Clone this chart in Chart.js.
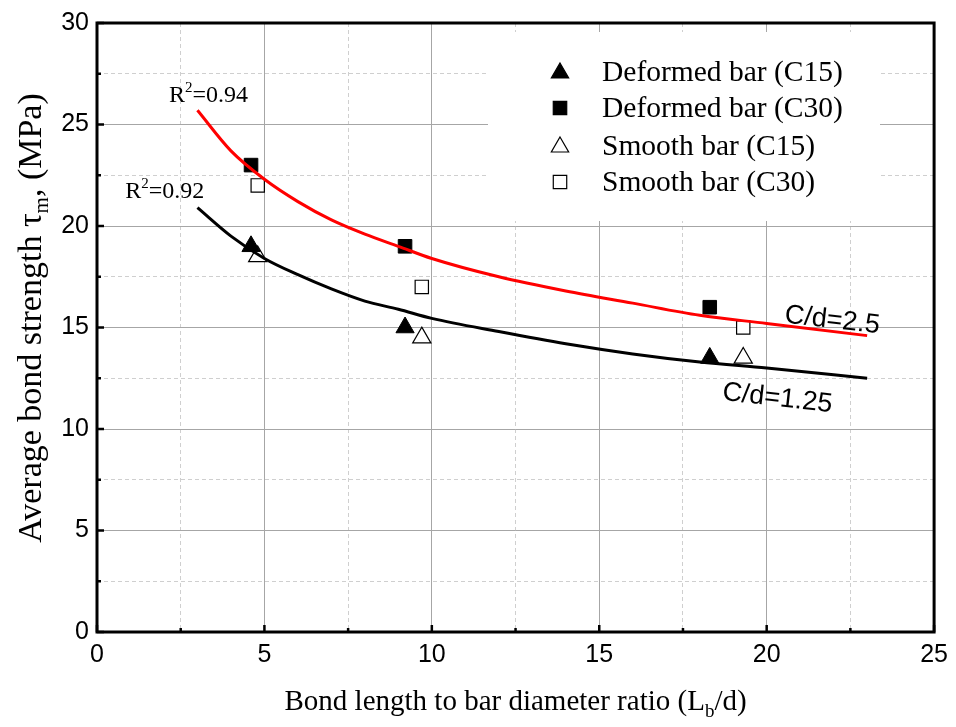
<!DOCTYPE html>
<html><head><meta charset="utf-8">
<script src="https://cdn.jsdelivr.net/npm/chart.js@4"></script>
<style>html,body{margin:0;padding:0;background:#fff}#wrap{width:956px;height:727px}</style>
</head><body><div id="wrap"><canvas id="c" width="956" height="727"></canvas></div>
<script>
// ---- data ----
const xTickValues = [0, 5, 10, 15, 20, 25];
const yTickValues = [0, 5, 10, 15, 20, 25, 30];
const seriesNames = ['Deformed bar (C15)', 'Deformed bar (C30)', 'Smooth bar (C15)', 'Smooth bar (C30)'];
const deformedX = [4.6, 9.2, 18.3];
const deformedC15 = [19.0, 15.0, 13.5];
const deformedC30 = [23.0, 19.0, 16.0];
const smoothX = [4.8, 9.7, 19.3];
const smoothC15 = [18.5, 14.5, 13.5];
const smoothC30 = [22.0, 17.0, 15.0];
const fitX = [3, 4, 5, 6, 7, 8, 9, 10, 12, 14, 16, 18, 20, 23];
const fitCd25 = [25.7, 23.7, 22.3, 21.2, 20.3, 19.6, 19.0, 18.4, 17.5, 16.8, 16.2, 15.6, 15.2, 14.6];
const fitCd125 = [20.9, 19.5, 18.4, 17.6, 16.9, 16.3, 15.9, 15.45, 14.8, 14.2, 13.7, 13.3, 13.0, 12.5];
const fitLabels = ['C/d=2.5', 'C/d=1.25'];
const r2Values = ['0.94', '0.92'];
const xTitle = ['Bond length to bar diameter ratio (L', 'b', '/d)'];
const yTitle = ['Average bond strength \u03C4', 'm', ', (MPa)'];

const pts = (xs, ys) => xs.map((x, i) => ({x: x, y: ys[i]}));
const SERIF = '"Liberation Serif", "Times New Roman", serif';
const SANS = '"Liberation Sans", Arial, sans-serif';

function rich(ctx, parts, x, y, align) {
  let total = 0;
  parts.forEach(p => { ctx.font = p[1] + 'px ' + SERIF; total += ctx.measureText(p[0]).width; });
  let cx = align === 'center' ? x - total / 2 : x;
  ctx.textAlign = 'left';
  ctx.textBaseline = 'alphabetic';
  parts.forEach(p => {
    ctx.font = p[1] + 'px ' + SERIF;
    ctx.fillText(p[0], cx, y + p[2]);
    cx += ctx.measureText(p[0]).width;
  });
}

function marker(ctx, style, filled, x, y, r) {
  ctx.beginPath();
  if (style === 'triangle') {
    let rad = 0;
    ctx.moveTo(x + Math.sin(rad) * r, y - Math.cos(rad) * r);
    rad += 2 * Math.PI / 3;
    ctx.lineTo(x + Math.sin(rad) * r, y - Math.cos(rad) * r);
    rad += 2 * Math.PI / 3;
    ctx.lineTo(x + Math.sin(rad) * r, y - Math.cos(rad) * r);
    ctx.closePath();
  } else {
    const s = Math.SQRT1_2 * r;
    ctx.rect(x - s, y - s, 2 * s, 2 * s);
  }
  ctx.fillStyle = filled ? '#000' : '#fff';
  ctx.fill();
  ctx.lineWidth = 1.2;
  ctx.strokeStyle = '#000';
  ctx.stroke();
}

const decor = {
  id: 'decor',
  beforeDatasetsDraw(chart) {
    const {ctx, chartArea: a, scales: {x, y}} = chart;
    ctx.save();
    ctx.fillStyle = '#fff';
    ctx.fillRect(a.left + 391, 32, 392, 189);
    ctx.strokeStyle = '#000';
    ctx.lineWidth = 3;
    ctx.strokeRect(a.left, a.top, a.right - a.left, a.bottom - a.top);
    ctx.lineWidth = 2.5;
    ctx.beginPath();
    for (let v = 0; v <= 25.001; v += 2.5) {
      const px = x.getPixelForValue(v);
      const len = (Math.abs(v % 5) < 1e-6) ? 7 : 4;
      ctx.moveTo(px, a.bottom); ctx.lineTo(px, a.bottom - len);
    }
    for (let v = 0; v <= 30.001; v += 2.5) {
      const py = y.getPixelForValue(v);
      const len = (Math.abs(v % 5) < 1e-6) ? 7 : 4;
      ctx.moveTo(a.left, py); ctx.lineTo(a.left + len, py);
    }
    ctx.stroke();
    ctx.fillStyle = '#000';
    rich(ctx, [[xTitle[0], 29, 0], [xTitle[1], 19, 7], [xTitle[2], 29, 0]], (a.left + a.right) / 2, 710, 'center');
    ctx.save();
    ctx.translate(41, 318);
    ctx.rotate(-Math.PI / 2);
    rich(ctx, [[yTitle[0], 34, 0], [yTitle[1], 21, 7], [yTitle[2], 34, 0]], 0, 0, 'center');
    ctx.restore();
    rich(ctx, [['R', 24, 0], ['2', 15, -10], ['=' + r2Values[0], 24, 0]], x.getPixelForValue(2.15), y.getPixelForValue(26.1), 'left');
    rich(ctx, [['R', 24, 0], ['2', 15, -10], ['=' + r2Values[1], 24, 0]], x.getPixelForValue(0.84), y.getPixelForValue(21.36), 'left');
    ctx.font = '27px ' + SANS;
    ctx.textAlign = 'center';
    ctx.textBaseline = 'middle';
    [[fitLabels[0], 21.96, 15.35], [fitLabels[1], 20.32, 11.5]].forEach(t => {
      ctx.save();
      ctx.translate(x.getPixelForValue(t[1]), y.getPixelForValue(t[2]));
      ctx.rotate(6.5 * Math.PI / 180);
      ctx.fillText(t[0], 0, 0);
      ctx.restore();
    });
    ctx.restore();
  },
  afterDatasetsDraw(chart) {
    const {ctx, chartArea: a} = chart;
    ctx.save();
    const entries = chart.data.datasets.filter(d => d.legendEntry);
    const rowY = [72, 108, 146, 182];
    entries.forEach((d, i) => {
      const cy = rowY[i];
      marker(ctx, d.pointStyle, d.backgroundColor === '#000', a.left + 463, d.pointStyle === 'triangle' ? cy + 1 : cy, d.pointStyle === 'triangle' ? 10 : 9.5);
      ctx.fillStyle = '#000';
      ctx.font = '29.5px ' + SERIF;
      ctx.textAlign = 'left';
      ctx.textBaseline = 'alphabetic';
      ctx.fillText(d.label, a.left + 505, cy + 9);
    });
    ctx.restore();
  }
};

const majorOf = v => Math.abs(v % 5) < 1e-6;

new Chart(document.getElementById('c').getContext('2d'), {
  type: 'scatter',
  data: {
    datasets: [
      {type: 'line', label: fitLabels[0], data: pts(fitX, fitCd25), borderColor: '#ff0000', borderWidth: 3,
       pointRadius: 0, fill: false, cubicInterpolationMode: 'monotone'},
      {type: 'line', label: fitLabels[1], data: pts(fitX, fitCd125), borderColor: '#000000', borderWidth: 3,
       pointRadius: 0, fill: false, cubicInterpolationMode: 'monotone'},
      {label: seriesNames[0], data: pts(deformedX, deformedC15), pointStyle: 'triangle', pointRadius: 10.5,
       backgroundColor: '#000', borderColor: '#000', borderWidth: 1, legendEntry: true},
      {label: seriesNames[1], data: pts(deformedX, deformedC30), pointStyle: 'rect', pointRadius: 9.6,
       backgroundColor: '#000', borderColor: '#000', borderWidth: 1, legendEntry: true},
      {label: seriesNames[2], data: pts(smoothX, smoothC15), pointStyle: 'triangle', pointRadius: 10.5,
       backgroundColor: '#fff', borderColor: '#000', borderWidth: 1.2, legendEntry: true},
      {label: seriesNames[3], data: pts(smoothX, smoothC30), pointStyle: 'rect', pointRadius: 9.4,
       backgroundColor: '#fff', borderColor: '#000', borderWidth: 1.2, legendEntry: true}
    ]
  },
  options: {
    responsive: false,
    animation: false,
    events: [],
    devicePixelRatio: 1,
    layout: {padding: {left: 0, top: 18, right: 21, bottom: 0}},
    plugins: {legend: {display: false}, tooltip: {enabled: false}},
    scales: {
      x: {
        type: 'linear', min: 0, max: 25,
        afterFit: s => { s.height = 95; },
        afterBuildTicks: s => { const t = []; for (let v = 0; v <= 25; v += 2.5) t.push({value: v}); s.ticks = t; },
        ticks: {
          autoSkip: false, maxRotation: 0, padding: 8, color: '#000',
          font: {family: SANS, size: 25},
          callback: v => xTickValues.includes(v) ? String(v) : ''
        },
        grid: {drawTicks: false, lineWidth: 1, color: c => (c.tick && majorOf(c.tick.value)) ? '#a6a6a6' : '#cfcfcf'},
        border: {display: false, dash: c => (c.tick && !majorOf(c.tick.value)) ? [4, 3] : []}
      },
      y: {
        type: 'linear', min: 0, max: 30,
        afterFit: s => { s.width = 97; },
        afterBuildTicks: s => { const t = []; for (let v = 0; v <= 30; v += 2.5) t.push({value: v}); s.ticks = t; },
        ticks: {
          autoSkip: false, padding: 8, color: '#000',
          font: {family: SANS, size: 25},
          callback: v => yTickValues.includes(v) ? String(v) : ''
        },
        grid: {drawTicks: false, lineWidth: 1, color: c => (c.tick && majorOf(c.tick.value)) ? '#a6a6a6' : '#cfcfcf'},
        border: {display: false, dash: c => (c.tick && !majorOf(c.tick.value)) ? [4, 3] : []}
      }
    }
  },
  plugins: [decor]
});
</script>
</body></html>
